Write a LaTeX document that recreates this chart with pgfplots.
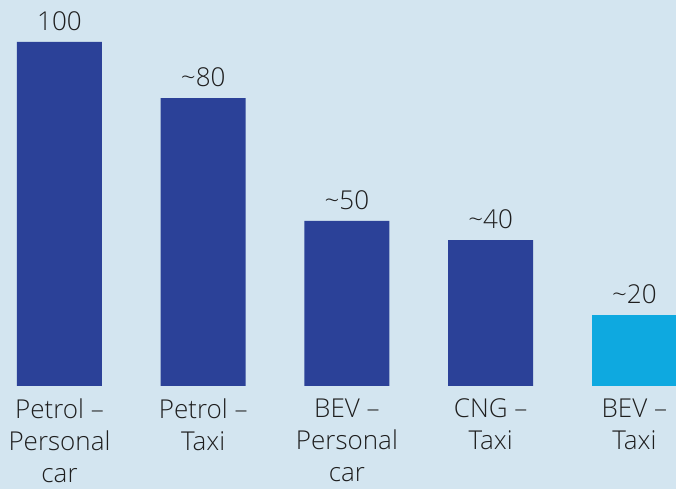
\documentclass[border=0pt]{standalone}
\usepackage{fontspec}
\setmainfont{Open Sans}[UprightFont=* Light]
\usepackage{pgfplots}
\pgfplotsset{compat=1.18}
\definecolor{bg}{HTML}{D3E5F0}
\definecolor{dblue}{HTML}{2B4198}
\definecolor{cyanb}{HTML}{0EA9E0}
\definecolor{txt}{HTML}{1E1E1E}
\begin{document}
\begin{tikzpicture}
\fill[bg] (0,0) rectangle (507pt,366.75pt);
\begin{axis}[
  at={(0,0)}, anchor=south west,
  scale only axis, width=507pt, height=366.75pt,
  xmin=-0.414, xmax=4.290, ymin=-29.94, ymax=112.2,
  axis x line=middle, axis y line=none,
  hide obscured x ticks=false,
  axis line style={draw=none}, tick style={draw=none},
  major tick length=0pt,
  ytick=\empty,
  ybar, bar width=63.75pt, bar shift=0pt,
  xtick={0,1,2,3,4},
  xticklabels={Petrol --\\Personal\\car, Petrol --\\Taxi, BEV --\\Personal\\car, CNG --\\Taxi, BEV --\\Taxi},
  xticklabel style={align=center, font=\fontsize{19.5}{24.2}\selectfont, text=txt, anchor=north, yshift=-6pt},
  nodes near coords,
  point meta=explicit symbolic,
  nodes near coords style={font=\fontsize{19.5}{22}\selectfont, text=txt, anchor=south, yshift=5pt},
  clip=false,
]
\addplot[fill=dblue, draw=none] coordinates {(0,100) [100] (1,83.7) [\textasciitilde80] (2,48) [\textasciitilde50] (3,42.4) [\textasciitilde40]};
\addplot[fill=cyanb, draw=none] coordinates {(4,20.6) [\textasciitilde20]};
\end{axis}
\pgfresetboundingbox
\path[use as bounding box] (0,0) rectangle (507pt,366.75pt);
\end{tikzpicture}
\end{document}
